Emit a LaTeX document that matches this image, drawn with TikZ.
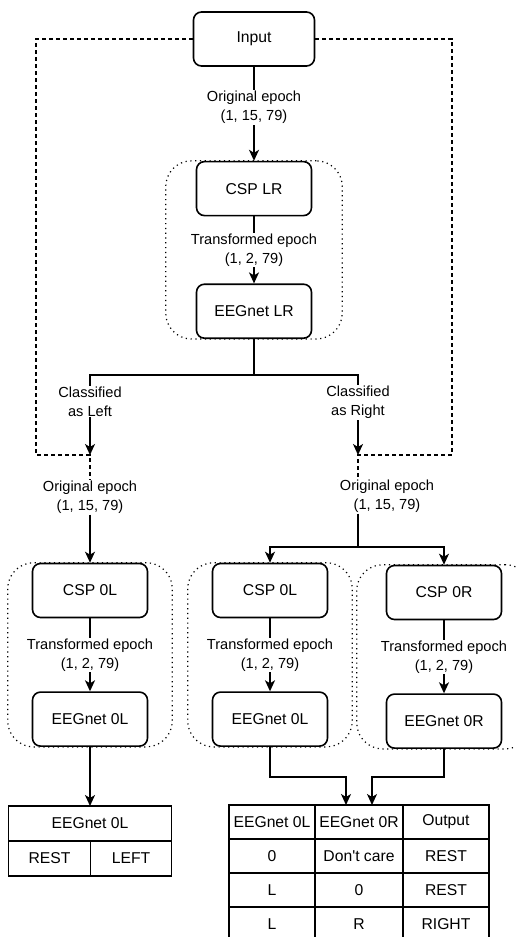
\documentclass[tikz,border=0pt]{standalone}
\usepackage{fontspec}
\setmainfont[Ligatures=TeXOff]{Liberation Sans}
\usepackage{tikz}
\usetikzlibrary{arrows.meta, positioning, fit, backgrounds}
\tikzstyle{block} = [rectangle, rounded corners=8pt, minimum width=115pt, minimum height=54pt, text centered, draw=black, line width=1.6pt, fill=white, font=\fontsize{15.7}{19}\selectfont]
\tikzstyle{lbl} = [fill=white, align=center, inner sep=1pt, font=\fontsize{14.6}{19}\selectfont]
\tikzstyle{arrow} = [line width=1.6pt, -{Stealth[length=11pt, width=10pt, inset=3pt]}]
\tikzstyle{conn} = [line width=1.6pt]
\tikzstyle{dashline} = [line width=1.2pt, dash pattern=on 4pt off 3pt]
\tikzstyle{dotgroup} = [rectangle, rounded corners=26pt, draw=black, line width=1.2pt, dash pattern=on 1.2pt off 3.6pt, inner xsep=24pt, inner ysep=0pt]
\tikzstyle{cell} = [rectangle, draw=black, line width=1.6pt, outer sep=0pt, inner sep=0pt, minimum height=34pt, font=\fontsize{15.7}{19}\selectfont]

\begin{document}
\begin{tikzpicture}[x=1pt, y=-1pt, node distance=67pt]
    \useasboundingbox (0,0) rectangle (515,937);
    % first stage
    \node[block, minimum width=121pt] (input) at (254,39) {Input};
    \node[block, below=94pt of input] (csplr) {CSP LR};
    \node[block, below=of csplr] (eeglr) {EEGnet LR};

    \coordinate (split) at (254,375);
    \coordinate (cl) at (90,375);
    \coordinate (cr) at (358,375);
    \coordinate (jl) at (90,455);
    \coordinate (jr) at (358,455);
    \coordinate (dlc) at (36,455);
    \coordinate (drc) at (452,455);
    \coordinate (sr) at (358,547);

    \node[lbl] (origl) at (90,497) {Original epoch\\(1, 15, 79)};
    \node[lbl] (origr) at (387,496) {Original epoch\\(1, 15, 79)};

    % second stage
    \node[block] (csp0l) at (90,590.5) {CSP 0L};
    \node[block] (csp0m) at (270,590.5) {CSP 0L};
    \node[block] (csp0r) at (444,592.5) {CSP 0R};
    \node[block, below=73pt of csp0l] (eeg0l) {EEGnet 0L};
    \node[block, below=73pt of csp0m] (eeg0m) {EEGnet 0L};
    \node[block, below=73pt of csp0r] (eeg0r) {EEGnet 0R};

    \begin{scope}[on background layer]
        \node[dotgroup, inner xsep=30pt, fit=(csplr)(eeglr)] (grplr) {};
        \node[dotgroup, fit=(csp0l)(eeg0l)] (grpl) {};
        \node[dotgroup, fit=(csp0m)(eeg0m)] (grpm) {};
        \node[dotgroup, inner xsep=29pt, fit=(csp0r)(eeg0r)] (grpr) {};
    \end{scope}

    % left table
    \node[cell, minimum width=163pt, minimum height=35pt] (tl) at (90,823.5) {EEGnet 0L};
    \node[cell, minimum width=82pt, minimum height=35pt, anchor=north west] (tlrest) at (tl.south west) {REST};
    \node[cell, minimum width=81pt, minimum height=35pt, anchor=north east] (tlleft) at (tl.south east) {LEFT};

    % right table
    \node[cell, minimum width=86pt] (t11) at (272,822) {EEGnet 0L};
    \node[cell, minimum width=88pt, right=0pt of t11] (t12) {EEGnet 0R};
    \node[cell, minimum width=86pt, right=0pt of t12] (t13) {Output};
    \node[cell, minimum width=86pt, below=0pt of t11] (t21) {0};
    \node[cell, minimum width=88pt, below=0pt of t12] (t22) {Don't care};
    \node[cell, minimum width=86pt, below=0pt of t13] (t23) {REST};
    \node[cell, minimum width=86pt, below=0pt of t21] (t31) {L};
    \node[cell, minimum width=88pt, below=0pt of t22] (t32) {0};
    \node[cell, minimum width=86pt, below=0pt of t23] (t33) {REST};
    \node[cell, minimum width=86pt, below=0pt of t31] (t41) {L};
    \node[cell, minimum width=88pt, below=0pt of t32] (t42) {R};
    \node[cell, minimum width=86pt, below=0pt of t33] (t43) {RIGHT};

    % connectors
    \draw[arrow] (input) -- node[lbl, pos=0.43] {Original epoch\\(1, 15, 79)} (csplr);
    \draw[arrow] (csplr) -- node[lbl] {Transformed epoch\\(1, 2, 79)} (eeglr);
    \draw[conn] (eeglr) -- (split);
    \draw[arrow] (split) -- (cl) -- node[lbl, pos=0.33] {Classified\\as Left} (jl);
    \draw[arrow] (split) -- (cr) -- node[lbl, pos=0.34] {Classified\\as Right} (jr);

    \draw[dashline] (input.west) -| (dlc) -- (jl) -- (origl);
    \draw[dashline] (input.east) -| (drc) -- (jr) -- (jr |- origr.north);

    \draw[arrow] (origl) -- (csp0l);
    \draw[conn] (jr |- origr.south) -- (sr);
    \draw[arrow] (sr) -| (csp0m);
    \draw[arrow] (sr) -| (csp0r);

    \draw[arrow] (csp0l) -- node[lbl] {Transformed epoch\\(1, 2, 79)} (eeg0l);
    \draw[arrow] (csp0m) -- node[lbl] {Transformed epoch\\(1, 2, 79)} (eeg0m);
    \draw[arrow] (csp0r) -- node[lbl] {Transformed epoch\\(1, 2, 79)} (eeg0r);

    \draw[arrow] (eeg0l) -- (tl);
    \draw[arrow] (eeg0m.south) -- ++(0,30) -| ([xshift=-13pt]t12.north);
    \draw[arrow] (eeg0r.south) -- ++(0,28) -| ([xshift=13pt]t12.north);
\end{tikzpicture}
\end{document}
